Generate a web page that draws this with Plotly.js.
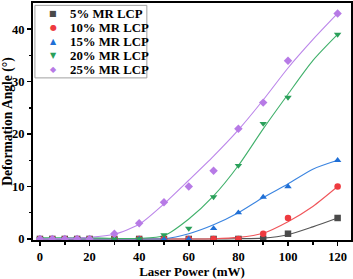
<!DOCTYPE html>
<html>
<head>
<meta charset="utf-8">
<script src="https://cdn.plot.ly/plotly-3.0.1.min.js"></script>
<style>html,body{margin:0;padding:0;background:#fff;}#chart{width:353px;height:279px;}</style>
</head>
<body>
<div id="chart"></div>
<script>
// Measured data points
const laserPower = [0, 5, 10, 15, 20, 30, 40, 50, 60, 70, 80, 90, 100, 120];
const seriesNames = ['5% MR LCP', '10% MR LCP', '15% MR LCP', '20% MR LCP', '25% MR LCP'];
const angle5 = [0, 0, 0, 0, 0, 0, 0, 0, 0, 0, 0, 0, 1, 4];
const angle10 = [0, 0, 0, 0, 0, 0, 0, 0, 0, 0, 0, 1, 4, 10];
const angle15 = [0, 0, 0, 0, 0, 0, 0, 0, 0, 2, 5, 8, 10, 15];
const angle20 = [0, 0, 0, 0, 0, 0, 0, 0.8, 2, 8, 14, 22, 27, 39];
const angle25 = [0, 0, 0, 0, 0, 1, 3, 7, 10, 13, 21, 26, 34, 43];

// Fit curves
const fitPower = [0, 10, 20, 30, 40, 50, 60, 70, 80, 90, 100, 110, 120];
const fit5 = [0, 0, 0, 0, 0, 0, 0, 0, 0.05, 0.15, 0.8, 2.3, 4.0];
const fit10 = [0, 0, 0, 0, 0, 0, 0, 0.05, 0.3, 1.1, 3.3, 6.2, 10];
const fit15 = [0, 0, 0, 0, 0, 0.05, 1.0, 2.7, 5.0, 7.9, 10.5, 13.3, 15];
const fit20 = [0.2, 0.2, 0.2, 0.1, 0.1, 0.6, 3.8, 8.2, 14, 21, 27.6, 34, 39];
const fit25 = [0, 0.1, 0.3, 0.9, 2.8, 6.7, 11.2, 15.8, 20.8, 26.5, 32.6, 38, 43];

const markerColors = ['#4a4a4a', '#ee3a3f', '#1f6fd6', '#2aa05a', '#b77ae6'];
const lineColors = ['#555555', '#f0555a', '#3a84e0', '#3fb06a', '#bb85ea'];
const symbols = ['square', 'circle', 'triangle-up', 'triangle-down', 'diamond'];
const legendGlyphs = ['■', '●', '▲', '▼', '◆'];

const dataSets = [angle5, angle10, angle15, angle20, angle25];
const fitSets = [fit5, fit10, fit15, fit20, fit25];

const traces = [];
fitSets.forEach((f, i) => {
  traces.push({
    x: fitPower, y: f, mode: 'lines', showlegend: false, hoverinfo: 'skip',
    line: {color: lineColors[i], width: 1.1, shape: 'spline', smoothing: 0.7}
  });
});
dataSets.forEach((d, i) => {
  traces.push({
    x: laserPower, y: d, mode: 'markers', name: seriesNames[i], showlegend: false,
    marker: {symbol: symbols[i], size: 6.5, color: markerColors[i]}
  });
});

const serif = 'Times New Roman';
const axisFont = {family: serif, size: 12.5, color: '#000', weight: 'bold'};

// Compact legend (Origin style) built from the series names
const legTop = 0.954, legStep = 0.059;
const annotations = [];
seriesNames.forEach((n, i) => {
  const yy = legTop - i * legStep;
  annotations.push({
    xref: 'paper', yref: 'paper', x: 0.063, y: yy, xanchor: 'center', yanchor: 'middle',
    text: legendGlyphs[i], showarrow: false,
    font: {family: 'DejaVu Sans', size: 8, color: markerColors[i]}
  });
  annotations.push({
    xref: 'paper', yref: 'paper', x: 0.11, y: yy, xanchor: 'left', yanchor: 'middle',
    text: n, showarrow: false,
    font: {family: serif, size: 12.8, color: '#000', weight: 'bold'}
  });
});

const layout = {
  width: 353, height: 279,
  margin: {l: 33, r: 2, t: 3, b: 39},
  paper_bgcolor: '#fff', plot_bgcolor: '#fff',
  showlegend: false,
  annotations: annotations,
  shapes: [{
    type: 'rect', xref: 'paper', yref: 'paper', x0: 0.006, x1: 0.358, y0: 0.684, y1: 0.99,
    line: {color: '#a0a0a0', width: 1}, fillcolor: 'rgba(255,255,255,0)', layer: 'above'
  }],
  xaxis: {
    range: [-2.8, 125.4], tickvals: [0, 20, 40, 60, 80, 100, 120],
    ticks: 'outside', ticklen: 4, tickwidth: 1.5, tickcolor: '#000',
    minor: {tickvals: [10, 30, 50, 70, 90, 110], ticks: 'outside', ticklen: 2.5, tickcolor: '#000'},
    showline: true, linecolor: '#000', linewidth: 2, mirror: true,
    showgrid: false, zeroline: false,
    tickfont: axisFont,
    title: {text: 'Laser Power (mW)', font: {family: serif, size: 13, color: '#000', weight: 'bold'}, standoff: 6}
  },
  yaxis: {
    range: [-0.2, 45], tickvals: [0, 10, 20, 30, 40],
    ticks: 'outside', ticklen: 4, tickwidth: 1.5, tickcolor: '#000',
    minor: {tickvals: [5, 15, 25, 35], ticks: 'outside', ticklen: 2.5, tickcolor: '#000'},
    showline: true, linecolor: '#000', linewidth: 2, mirror: true,
    showgrid: false, zeroline: false,
    tickfont: axisFont,
    title: {text: 'Deformation Angle (°)', font: {family: serif, size: 13.6, color: '#000', weight: 'bold'}, standoff: 2}
  }
};

Plotly.newPlot('chart', traces, layout, {staticPlot: true, displayModeBar: false});
</script>
</body>
</html>
